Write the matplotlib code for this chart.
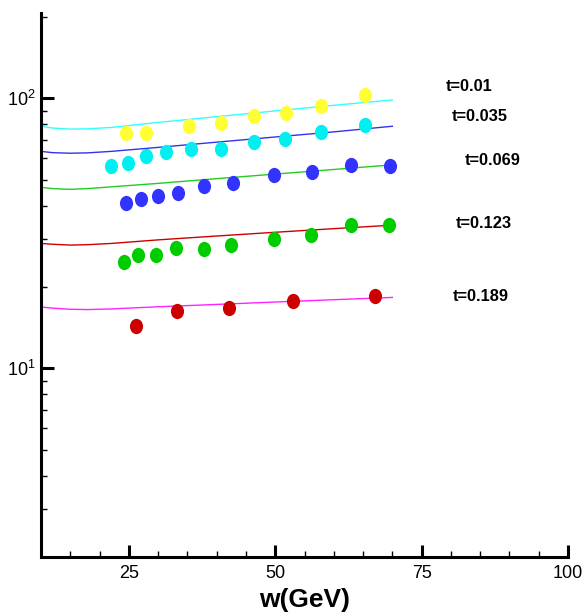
import numpy as np
import matplotlib
matplotlib.use("Agg")
import matplotlib.pyplot as plt
from matplotlib.path import Path
from matplotlib.ticker import FixedLocator, NullFormatter

plt.rcParams['font.family'] = ['Liberation Sans', 'DejaVu Sans']
plt.rcParams['mathtext.fontset'] = 'custom'
plt.rcParams['mathtext.rm'] = 'Liberation Sans'
plt.rcParams['mathtext.it'] = 'Liberation Sans'

# ---- data ----
curve_w = [10, 12, 15, 18, 22, 30, 40, 50, 60, 70]
curve_t001 = [78.8, 77.6, 76.9, 77.1, 78.0, 81.4, 85.5, 89.8, 94.2, 98.6]
curve_t035 = [63.6, 62.9, 62.6, 62.8, 63.6, 65.8, 68.8, 71.9, 75.1, 78.8]
curve_t069 = [46.8, 46.3, 46.0, 46.3, 47.0, 48.4, 50.4, 52.4, 54.5, 56.7]
curve_t123 = [29.0, 28.8, 28.6, 28.7, 29.0, 29.9, 30.9, 31.9, 32.9, 33.9]
curve_t189 = [16.87, 16.7, 16.54, 16.5, 16.59, 16.9, 17.24, 17.6, 17.95, 18.3]

pts_t001_w = [24.6, 28.0, 35.3, 40.8, 46.3, 51.8, 57.8, 65.4]
pts_t001_y = [74.6, 74.2, 78.8, 81.0, 86.0, 88.2, 93.7, 102.6]
pts_t035_w = [21.9, 24.9, 27.95, 31.3, 35.6, 40.7, 46.3, 51.7, 57.8, 65.4]
pts_t035_y = [56.2, 57.8, 61.3, 63.2, 65.1, 64.9, 68.9, 70.7, 75.0, 79.4]
pts_t069_w = [24.6, 27.0, 30.0, 33.4, 37.9, 42.8, 49.8, 56.2, 62.9, 69.6]
pts_t069_y = [41.1, 42.3, 43.5, 44.7, 47.5, 48.7, 51.9, 53.2, 56.5, 56.2]
pts_t123_w = [24.1, 26.65, 29.65, 33.0, 37.9, 42.4, 49.8, 56.1, 62.9, 69.5]
pts_t123_y = [24.8, 26.3, 26.2, 27.8, 27.7, 28.6, 30.2, 31.1, 33.9, 33.9]
pts_t189_w = [26.2, 33.2, 42.1, 53.0, 67.0]
pts_t189_y = [14.4, 16.3, 16.7, 17.7, 18.6]

labels = ["t=0.01", "t=0.035", "t=0.069", "t=0.123", "t=0.189"]
label_w = [79.2, 80.2, 82.4, 80.9, 80.4]
label_y = [110.8, 85.3, 58.6, 34.4, 18.5]

line_colors = ["#33ffff", "#3333ee", "#22cc22", "#cc0000", "#ff22ff"]
pt_colors = ["#ffff33", "#00f0f0", "#3333ff", "#00cc00", "#cc0000"]

# ---- figure ----
fig = plt.figure(figsize=(5.85, 6.16), dpi=100)
ax = fig.add_axes([41/585, 1-557/616, (568-41)/585, (557-13)/616])

curves = [curve_t001, curve_t035, curve_t069, curve_t123, curve_t189]
for c, col in zip(curves, line_colors):
    ax.plot(curve_w, c, color=col, lw=1.0, zorder=2)

# elliptical marker (slightly taller than wide)
circ = Path.unit_circle()
ell = Path(circ.vertices * np.array([0.86, 1.0]), circ.codes)

pts = [(pts_t001_w, pts_t001_y), (pts_t035_w, pts_t035_y), (pts_t069_w, pts_t069_y),
       (pts_t123_w, pts_t123_y), (pts_t189_w, pts_t189_y)]
for (w, y), col in zip(pts, pt_colors):
    ax.plot(w, y, linestyle='none', marker=ell, markersize=11, color=col,
            markeredgewidth=0, zorder=3)

for lab, lw_, ly in zip(labels, label_w, label_y):
    ax.text(lw_, ly, lab, fontsize=11.8, fontweight='bold', ha='left', va='center')

ax.set_yscale('log')
ax.set_xlim(10, 100)
ax.set_ylim(2.0, 207)

ax.xaxis.set_major_locator(FixedLocator([25, 50, 75, 100]))
ax.xaxis.set_minor_locator(FixedLocator([15, 20, 30, 35, 40, 45, 55, 60, 65, 70, 80, 85, 90, 95]))
ax.set_xticklabels(["25", "50", "75", "100"])
ax.yaxis.set_major_locator(FixedLocator([10, 100]))
ax.yaxis.set_minor_locator(FixedLocator([3, 4, 5, 6, 7, 8, 9, 20, 30, 40, 50, 60, 70, 80, 90, 200]))
ax.set_yticklabels([r"$10^{1}$", r"$10^{2}$"])
ax.yaxis.set_minor_formatter(NullFormatter())

for s in ['top', 'right']:
    ax.spines[s].set_visible(False)
for s in ['left', 'bottom']:
    ax.spines[s].set_linewidth(2.2)

ax.tick_params(which='major', direction='in', length=9, width=2.2, labelsize=13, pad=6)
ax.tick_params(which='minor', direction='in', length=4.5, width=1.0)
ax.tick_params(axis='y', which='major', pad=4)

ax.set_xlabel("w(GeV)", fontsize=19, fontweight='bold', labelpad=4)

fig.savefig("out.png", dpi=100)
